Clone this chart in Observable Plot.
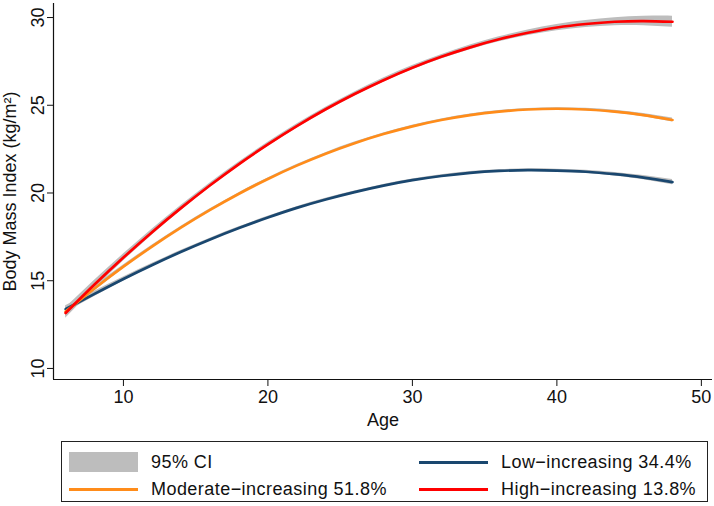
<!DOCTYPE html>
<html>
<head>
<meta charset="utf-8">
<script src="https://cdn.jsdelivr.net/npm/d3@7"></script>
<script src="https://cdn.jsdelivr.net/npm/@observablehq/plot@0.6"></script>
<style>
  body { margin: 0; background: #fff; font-family: "Liberation Sans", Arial, sans-serif; }
  #wrap { position: relative; width: 714px; height: 506px; }
  #legend { position: absolute; left: 61px; top: 441px; width: 645px; height: 59px; border: 1px solid #222; box-sizing: content-box; font-size: 18px; letter-spacing: 0.45px; color: #111; }
  .item { position: absolute; display: flex; align-items: center; height: 24px; }
  .sw { width: 69px; margin-right: 13px; }
</style>
</head>
<body>
<div id="wrap">
  <div id="chart"></div>
  <div id="legend"></div>
</div>
<script>
const ages = [6, 8, 10, 12, 14, 16, 18, 20, 22, 24, 26, 28, 30, 32, 34, 36, 38, 40, 42, 44, 46, 48];
const highBMI = [13.16, 14.78, 16.32, 17.78, 19.15, 20.44, 21.65, 22.77, 23.81, 24.77, 25.64, 26.43, 27.14, 27.76, 28.3, 28.76, 29.13, 29.43, 29.63, 29.76, 29.8, 29.76];
const highCI = [0.3, 0.25, 0.2, 0.17, 0.15, 0.13, 0.12, 0.12, 0.12, 0.12, 0.12, 0.12, 0.12, 0.12, 0.13, 0.14, 0.16, 0.18, 0.2, 0.23, 0.27, 0.32];
const modBMI = [13.24, 14.56, 15.8, 16.96, 18.04, 19.04, 19.96, 20.8, 21.56, 22.24, 22.84, 23.36, 23.8, 24.16, 24.44, 24.64, 24.76, 24.8, 24.76, 24.64, 24.44, 24.16];
const modCI = [0.2, 0.15, 0.1, 0.08, 0.07, 0.06, 0.06, 0.06, 0.06, 0.06, 0.06, 0.06, 0.06, 0.06, 0.06, 0.06, 0.06, 0.06, 0.07, 0.08, 0.09, 0.11];
const lowBMI = [13.38, 14.25, 15.1, 15.9, 16.65, 17.35, 18.0, 18.6, 19.15, 19.63, 20.05, 20.42, 20.73, 20.97, 21.15, 21.26, 21.3, 21.28, 21.21, 21.07, 20.88, 20.62];
const lowCI = [0.2, 0.15, 0.11, 0.09, 0.08, 0.07, 0.07, 0.07, 0.07, 0.07, 0.07, 0.07, 0.07, 0.07, 0.07, 0.07, 0.08, 0.08, 0.09, 0.1, 0.12, 0.15];

const groups = ["Low\u2212increasing 34.4%", "Moderate\u2212increasing 51.8%", "High\u2212increasing 13.8%"];
const colors = ["#1a476f", "#ff8c1a", "#ff0000"];
const xTicks = [10, 20, 30, 40, 50];
const yTicks = [10, 15, 20, 25, 30];

const series = [lowBMI, modBMI, highBMI];
const cis = [lowCI, modCI, highCI];
const rows = [];
groups.forEach((g, gi) => {
  ages.forEach((a, i) => {
    rows.push({group: g, age: a, bmi: series[gi][i], lo: series[gi][i] - cis[gi][i], hi: series[gi][i] + cis[gi][i]});
  });
});

const font = `"Liberation Sans", Arial, sans-serif`;

const chart = Plot.plot({
  width: 714,
  height: 432,
  marginLeft: 53,
  marginRight: 2,
  marginTop: 3,
  marginBottom: 53,
  style: {fontFamily: font, fontSize: "18px", color: "#111", background: "#fff"},
  x: {domain: [5.16, 50.77]},
  y: {domain: [9.37, 30.8]},
  color: {domain: groups, range: colors},
  marks: [
    Plot.areaY(rows, {x: "age", y1: "lo", y2: "hi", z: "group", fill: "#bdbdbd", curve: "natural"}),
    Plot.line(rows, {x: "age", y: "bmi", z: "group", stroke: "group", strokeWidth: 2.7, curve: "natural"}),
    Plot.ruleX([5.16], {stroke: "#111", strokeWidth: 1.2}),
    Plot.ruleY([9.37], {stroke: "#111", strokeWidth: 1.2}),
    Plot.axisX(xTicks, {tickSize: 7, tickPadding: 4, label: "Age", labelAnchor: "center", labelArrow: "none", labelOffset: 46, fontSize: 18}),
    Plot.axisY(yTicks, {tickSize: 6, tickPadding: 4, tickRotate: -90, label: "Body Mass Index (kg/m²)", labelAnchor: "center", labelArrow: "none", labelOffset: 50, fontSize: 18})
  ]
});
document.getElementById("chart").appendChild(chart);

const legend = document.getElementById("legend");
const items = [
  {label: "95% CI", type: "box", color: "#bdbdbd", left: 7, top: 8},
  {label: groups[0], type: "line", color: colors[0], left: 357, top: 8},
  {label: groups[1], type: "line", color: colors[1], left: 7, top: 35},
  {label: groups[2], type: "line", color: colors[2], left: 357, top: 35}
];
items.forEach(it => {
  const d = document.createElement("div");
  d.className = "item";
  d.style.left = it.left + "px";
  d.style.top = it.top + "px";
  const sw = document.createElement("div");
  sw.className = "sw";
  if (it.type === "box") { sw.style.height = "20px"; sw.style.background = it.color; }
  else { sw.style.height = "3px"; sw.style.background = it.color; }
  d.appendChild(sw);
  const t = document.createElement("span");
  t.textContent = it.label;
  d.appendChild(t);
  legend.appendChild(d);
});
</script>
</body>
</html>
